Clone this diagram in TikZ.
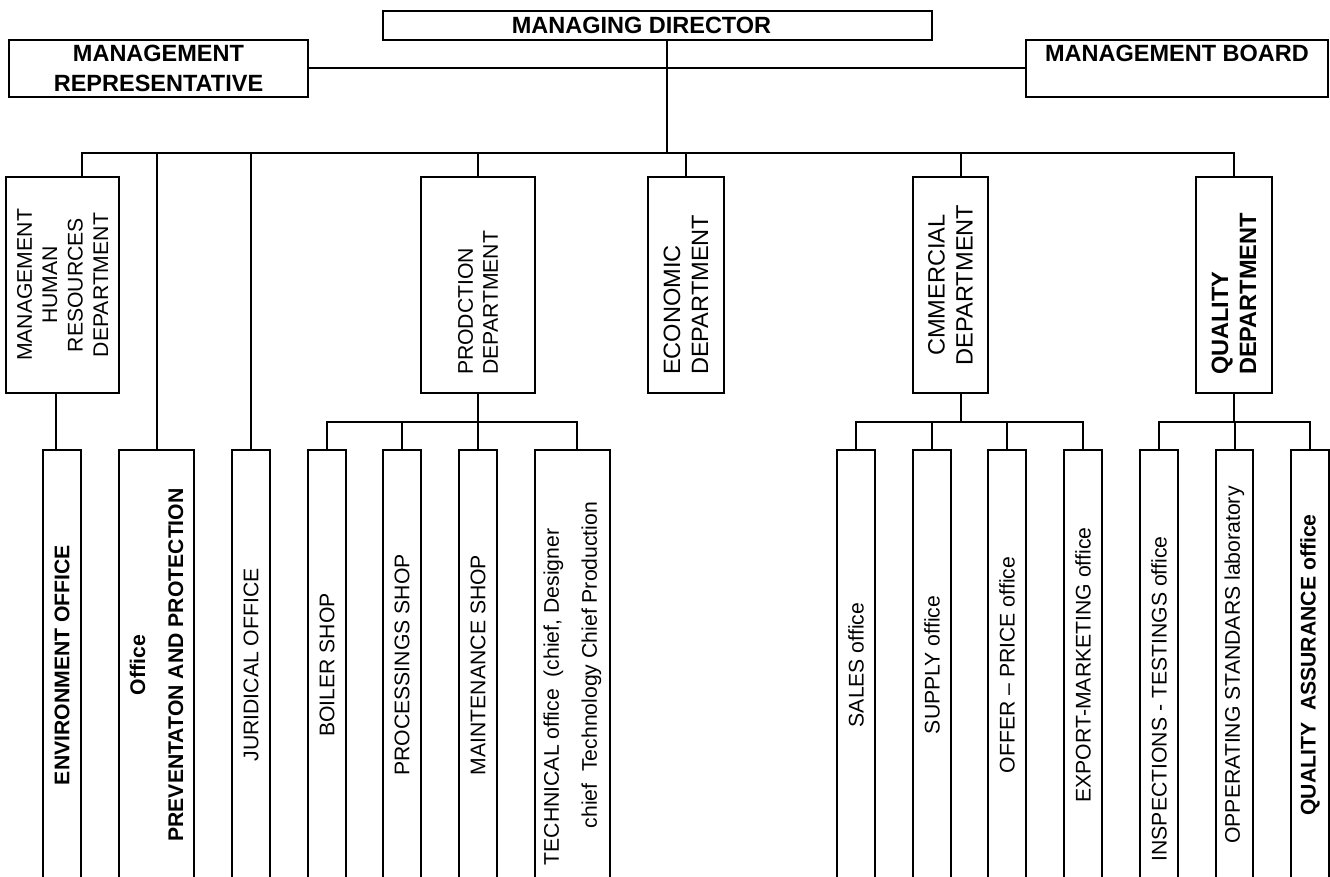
\documentclass[tikz,border=0pt]{standalone}
\usepackage{fontspec}
\setmainfont{Liberation Sans}
\begin{document}
\begin{tikzpicture}[x=0.5pt,y=-0.5pt,line width=1pt,
  every node/.style={inner sep=0pt,outer sep=0pt},
  topbox/.style={draw,font=\fontsize{11.75}{15}\selectfont\bfseries},
  dept/.style={draw,rotate=90,minimum width=108pt},
  sub/.style={draw,rotate=90,minimum width=215pt,minimum height=19pt,font=\fontsize{10.6}{12.7}\selectfont}]
\useasboundingbox (0,0) rectangle (1330,877);
\fill[white] (0,0) rectangle (1330,877);
\clip (0,0) rectangle (1330,877);

% level 1
\node[topbox,minimum width=274.5pt,minimum height=14.5pt] (md) at (657.5,25.5) {MANAGING DIRECTOR\hspace{16pt}\mbox{}};
\node[topbox,align=center,minimum width=149.5pt,minimum height=28.5pt] (mr) at (158.5,68.5) {MANAGEMENT\\REPRESENTATIVE};
\node[topbox,align=center,minimum width=151pt,minimum height=28.5pt] (mb) at (1177,68.5) {MANAGEMENT BOARD\\\phantom{M}};

% level 2
\node[dept,minimum height=56.5pt,align=center,font=\fontsize{10.6}{12.7}\selectfont] (mhr) at (62.5,285) {MANAGEMENT\\HUMAN\\RESOURCES\\DEPARTMENT};
\node[dept,minimum height=57pt,text width=90pt,align=left,font=\fontsize{10.6}{12.5}\selectfont] (prod) at (478,285) {PRODCTION\\DEPARTMENT};
\node[dept,minimum height=38pt,text width=90pt,align=left,font=\fontsize{11.8}{14}\selectfont] (econ) at (686,285) {ECONOMIC\\DEPARTMENT};
\node[dept,minimum height=37.5pt,align=center,font=\fontsize{11.8}{14}\selectfont] (comm) at (950.5,285) {CMMERCIAL\\DEPARTMENT};
\node[dept,minimum height=38pt,text width=90pt,align=left,font=\fontsize{11.8}{14}\selectfont\bfseries] (qual) at (1234,285) {QUALITY\\DEPARTMENT};

% level 3
\node[sub,font=\fontsize{10.6}{12.7}\selectfont\bfseries] (env) at (62,665) {ENVIRONMENT OFFICE};
\node[sub,minimum height=37.5pt,align=center,font=\fontsize{10.6}{19}\selectfont\bfseries] (prev) at (156.5,665) {Office\\PREVENTATON AND PROTECTION};
\node[sub] (jur) at (251,665) {JURIDICAL OFFICE};
\node[sub] (boil) at (327,665) {BOILER SHOP};
\node[sub] (proc) at (402,665) {PROCESSINGS SHOP};
\node[sub] (maint) at (478,665) {MAINTENANCE SHOP};
\node[sub,minimum height=37.5pt,align=center,font=\fontsize{10.6}{19}\selectfont] (tech) at (572.5,665) {TECHNICAL office\ \ (chief, Designer\hspace{32pt}\mbox{}\\chief\ \ Technology Chief Production};
\node[sub] (sales) at (856,665) {SALES office};
\node[sub] (supply) at (932,665) {SUPPLY office};
\node[sub] (offer) at (1007,665) {OFFER – PRICE office};
\node[sub] (export) at (1083,665) {EXPORT-MARKETING office};
\node[sub] (insp) at (1159,665) {INSPECTIONS - TESTINGS office\hspace{34pt}\mbox{}};
\node[sub,minimum height=18.5pt] (oper) at (1234.5,665) {OPPERATING STANDARS laboratory};
\node[sub,font=\fontsize{10.6}{12.7}\selectfont\bfseries] (qa) at (1310,665) {QUALITY\ \ ASSURANCE office};

% helper coordinates
\coordinate (j0) at (667,153);
\coordinate (bA) at (82,153);
\coordinate (bB) at (157,153);
\coordinate (bF) at (961,153);
\coordinate (bG) at (1234,153);
\coordinate (sy) at (0,422);
\coordinate (x56) at (56,0);
\coordinate (x577) at (577,0);

% connectors
\draw (md.south -| j0) -- (j0);
\draw (mr.east) -- (mb.west);
\draw (bA |- mhr.east) -- (bA) -- (bG) -- (qual.east);
\draw (bB) -- (bB |- prev.east);
\draw (jur.east |- bA) -- (jur.east);
\draw (prod.east |- bA) -- (prod.east);
\draw (econ.east |- bA) -- (econ.east);
\draw (bF) -- (bF |- comm.east);

\draw (x56 |- mhr.west) -- (x56 |- env.east);

\draw (prod.west) -- (prod.west |- sy);
\draw (boil.east) -- (boil.east |- sy) -- (x577 |- sy) -- (x577 |- tech.east);
\draw (proc.east |- sy) -- (proc.east);
\draw (maint.east |- sy) -- (maint.east);

\draw (bF |- comm.west) -- (bF |- sy);
\draw (sales.east) -- (sales.east |- sy) -- (export.east |- sy) -- (export.east);
\draw (supply.east |- sy) -- (supply.east);
\draw (offer.east |- sy) -- (offer.east);

\draw (qual.west) -- (qual.west |- sy);
\draw (insp.east) -- (insp.east |- sy) -- (qa.east |- sy) -- (qa.east);
\draw (oper.east |- sy) -- (oper.east);
\end{tikzpicture}
\end{document}
